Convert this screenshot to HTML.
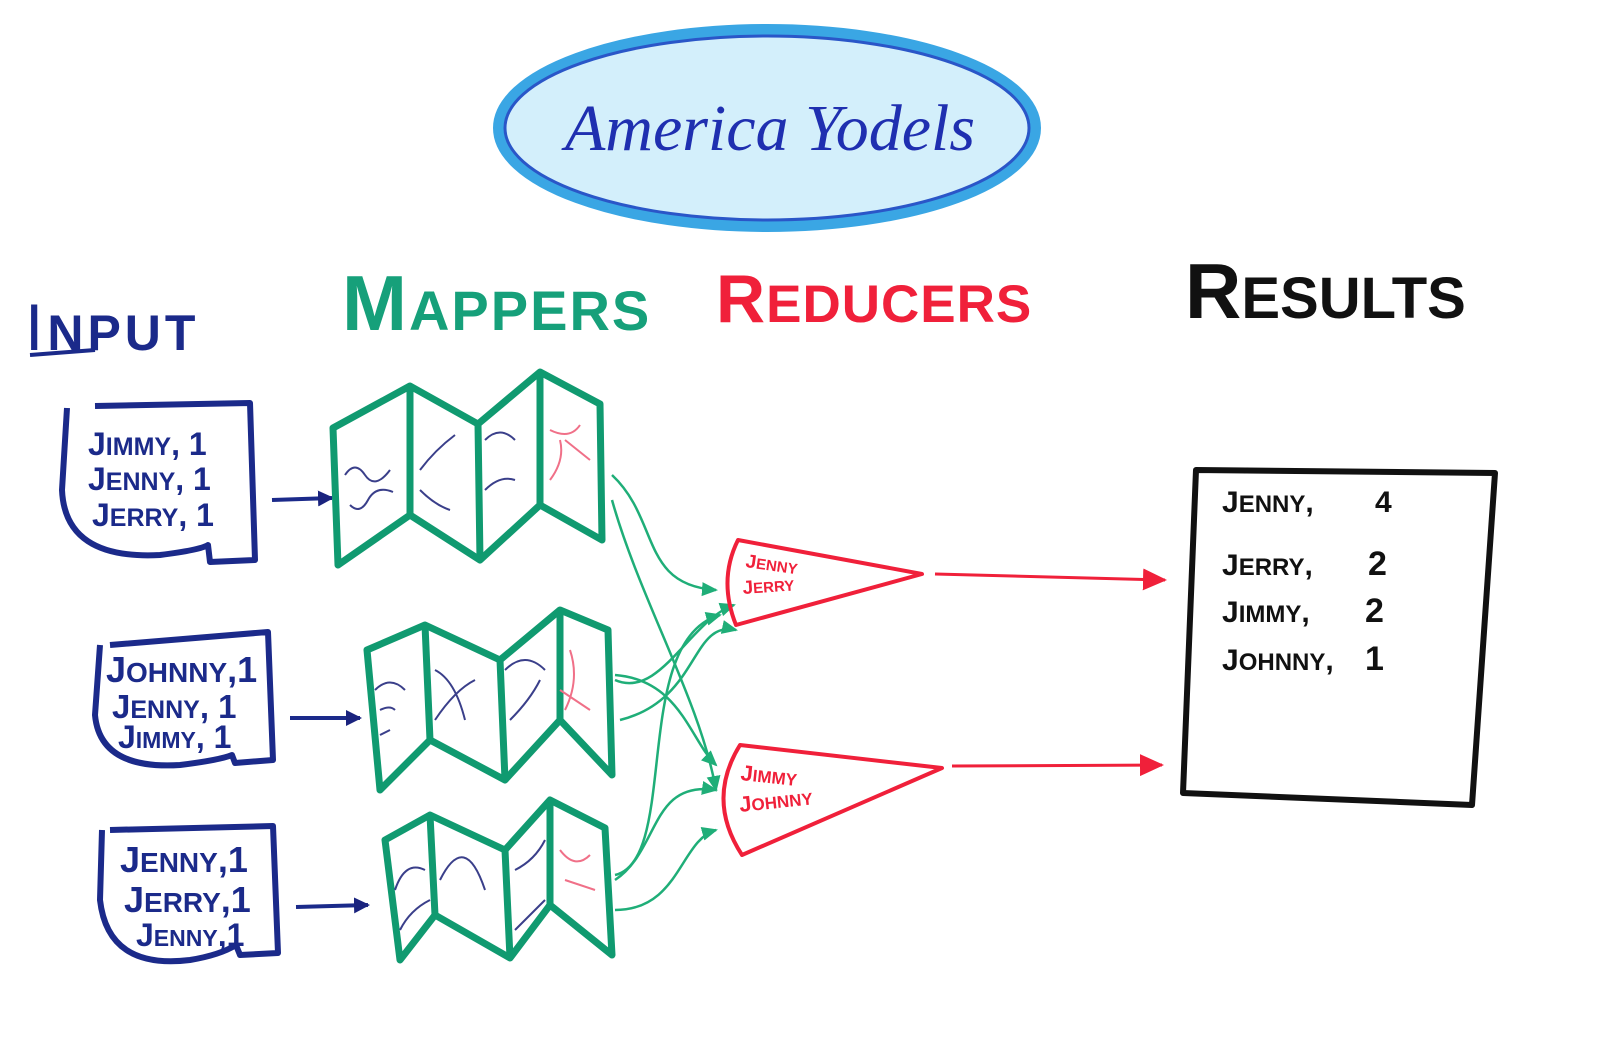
<!DOCTYPE html>
<html><head><meta charset="utf-8"><style>
html,body{margin:0;padding:0;background:#fff;}
svg{display:block}
text{font-family:"Liberation Sans",sans-serif;font-weight:bold}
</style></head><body>
<svg width="1600" height="1064" viewBox="0 0 1600 1064" xmlns="http://www.w3.org/2000/svg">
<defs>
<marker id="ab" markerWidth="16" markerHeight="16" refX="14" refY="8" orient="auto" markerUnits="userSpaceOnUse"><path d="M0,0 L16,8 L0,16 Z" fill="#1a237e"/></marker>
<marker id="ag" markerWidth="16" markerHeight="16" refX="14" refY="8" orient="auto" markerUnits="userSpaceOnUse"><path d="M0,1 L16,8 L0,15 Z" fill="#1fae78"/></marker>
<marker id="ar" markerWidth="24" markerHeight="22" refX="22" refY="11" orient="auto" markerUnits="userSpaceOnUse"><path d="M0,0 L24,11 L0,22 Z" fill="#f0203a"/></marker>
</defs>
<ellipse cx="767" cy="128" rx="268" ry="98" fill="#d3effb" stroke="#3aa6e4" stroke-width="12"/>
<ellipse cx="767" cy="128" rx="262" ry="92" fill="none" stroke="#2a56c8" stroke-width="3"/>
<text x="770" y="150" text-anchor="middle" font-style="italic" font-size="66" fill="#1f2fb0" style="font-family:'Liberation Serif',serif;font-weight:normal">America Yodels</text>
<text x="25" y="350" font-size="66" fill="#1b2a8a" letter-spacing="4" font-weight="normal" style="font-weight:normal">I<tspan font-size="50" font-weight="bold">NPUT</tspan></text>
<line x1="30" y1="355" x2="95" y2="350" stroke="#1b2a8a" stroke-width="4"/>
<text x="342" y="330" font-size="78" fill="#16a07a" letter-spacing="2">M<tspan font-size="56">APPERS</tspan></text>
<text x="716" y="322" font-size="68" fill="#f0203a" letter-spacing="1">R<tspan font-size="53">EDUCERS</tspan></text>
<text x="1185" y="318" font-size="78" fill="#111">R<tspan font-size="58">ESULTS</tspan></text>
<g fill="none" stroke="#1b2a8a" stroke-width="6" stroke-linejoin="round">
<path d="M67,408 L62,490 Q65,560 160,555 Q200,550 208,545 L210,562 L255,560 L250,403 L95,406"/>
<path d="M100,645 L95,715 Q100,770 180,765 Q220,760 232,755 L235,763 L273,760 L268,632 L110,645"/>
<path d="M102,830 L100,900 Q108,970 190,960 Q220,955 236,945 L240,955 L278,953 L273,826 L110,830"/>
</g>
<g font-size="32" fill="#1b2a8a">
<text x="88" y="455">J<tspan font-size="25">IMMY</tspan>, 1</text>
<text x="88" y="490">J<tspan font-size="25">ENNY</tspan>, 1</text>
<text x="92" y="526">J<tspan font-size="25">ERRY</tspan>, 1</text>
<text x="106" y="682" font-size="36">J<tspan font-size="28">OHNNY</tspan>,1</text>
<text x="112" y="718" font-size="33">J<tspan font-size="25">ENNY</tspan>, 1</text>
<text x="118" y="748">J<tspan font-size="23">IMMY</tspan>, 1</text>
<text x="120" y="872" font-size="36">J<tspan font-size="28">ENNY</tspan>,1</text>
<text x="124" y="912" font-size="36">J<tspan font-size="28">ERRY</tspan>,1</text>
<text x="136" y="946">J<tspan font-size="23">ENNY</tspan>,1</text>
</g>
<g stroke="#1b2a8a" stroke-width="4" fill="none">
<line x1="272" y1="500" x2="332" y2="498" marker-end="url(#ab)"/>
<line x1="290" y1="718" x2="360" y2="718" marker-end="url(#ab)"/>
<line x1="296" y1="907" x2="368" y2="905" marker-end="url(#ab)"/>
</g>
<g fill="none" stroke="#109a70" stroke-width="7" stroke-linejoin="round">
<path d="M333,428 L410,386 L478,424 L540,372 L600,404 L602,540 L540,505 L480,560 L410,515 L338,565 Z"/>
<path d="M410,386 L410,515 M478,424 L480,560 M540,372 L540,505"/>
<path d="M367,650 L425,625 L500,660 L560,610 L608,630 L612,775 L560,720 L505,780 L430,740 L380,790 Z"/>
<path d="M425,625 L430,740 M500,660 L505,780 M560,610 L560,720"/>
<path d="M385,840 L430,815 L505,850 L550,800 L605,828 L612,955 L550,905 L510,958 L435,915 L400,960 Z"/>
<path d="M430,815 L435,915 M505,850 L510,958 M550,800 L550,905"/>
</g>
<g fill="none" stroke="#3a3f8a" stroke-width="2">
<path d="M345,475 q10,-15 20,0 t25,-5 M350,505 q10,10 18,-5 t25,-8 M420,470 q15,-20 35,-35 M420,490 q15,15 30,20 M485,440 q15,-15 30,0 M485,490 q15,-15 30,-10"/>
<path d="M375,690 q15,-15 30,0 M380,710 q10,-5 15,0 M380,735 l10,-5 M435,670 q20,10 30,50 M435,720 q20,-30 40,-40 M505,670 q20,-20 40,0 M510,720 q20,-20 30,-40"/>
<path d="M395,890 q10,-30 30,-20 M400,930 q10,-20 30,-30 M440,880 q25,-50 45,10 M515,870 q20,-10 30,-30 M515,930 q20,-20 30,-30"/>
</g>
<g fill="none" stroke="#f07088" stroke-width="2">
<path d="M550,430 q20,10 30,-5 M560,440 q5,20 -10,40 M565,440 l25,20 M570,650 q10,30 -5,60 M560,690 l30,20 M560,850 q15,20 30,5 M565,880 l30,10"/>
</g>
<g fill="none" stroke="#1fae78" stroke-width="2.5">
<path d="M612,475 C660,520 640,585 716,590" marker-end="url(#ag)"/>
<path d="M612,500 C640,600 700,700 716,790" marker-end="url(#ag)"/>
<path d="M615,680 C660,700 690,620 734,605" marker-end="url(#ag)"/>
<path d="M615,675 C680,680 690,740 716,765" marker-end="url(#ag)"/>
<path d="M620,720 C700,700 690,620 736,630" marker-end="url(#ag)"/>
<path d="M615,875 C680,860 630,640 720,615" marker-end="url(#ag)"/>
<path d="M615,910 C680,910 680,840 716,830" marker-end="url(#ag)"/>
<path d="M615,880 C660,850 650,780 716,790" marker-end="url(#ag)"/>
</g>
<g fill="none" stroke="#f0203a" stroke-width="4" stroke-linejoin="round">
<path d="M738,540 Q718,580 736,625 L922,574 Z"/>
<path d="M740,745 Q706,800 742,855 L942,768 Z"/>
</g>
<g font-size="19" fill="#f0203a" font-weight="normal">
<text x="745" y="567" transform="rotate(8 745 567)">J<tspan font-size="15">ENNY</tspan></text>
<text x="743" y="594" transform="rotate(-4 743 594)">J<tspan font-size="15">ERRY</tspan></text>
<text x="740" y="780" font-size="22" transform="rotate(6 740 780)">J<tspan font-size="17">IMMY</tspan></text>
<text x="740" y="812" font-size="22" transform="rotate(-6 740 812)">J<tspan font-size="17">OHNNY</tspan></text>
</g>
<g stroke="#f0203a" stroke-width="3">
<line x1="935" y1="574" x2="1165" y2="580" marker-end="url(#ar)"/>
<line x1="952" y1="766" x2="1162" y2="765" marker-end="url(#ar)"/>
</g>
<path d="M1196,470 L1495,473 L1472,805 L1183,793 Z" fill="none" stroke="#111" stroke-width="6" stroke-linejoin="round"/>
<g font-size="30" fill="#111" font-weight="normal">
<text x="1222" y="512">J<tspan font-size="24">ENNY</tspan>,</text><text x="1375" y="512">4</text>
<text x="1222" y="575">J<tspan font-size="24">ERRY</tspan>,</text><text x="1368" y="575" font-size="34">2</text>
<text x="1222" y="622">J<tspan font-size="24">IMMY</tspan>,</text><text x="1365" y="622" font-size="34">2</text>
<text x="1222" y="670">J<tspan font-size="24">OHNNY</tspan>,</text><text x="1365" y="670" font-size="34">1</text>
</g>
</svg>
</body></html>
